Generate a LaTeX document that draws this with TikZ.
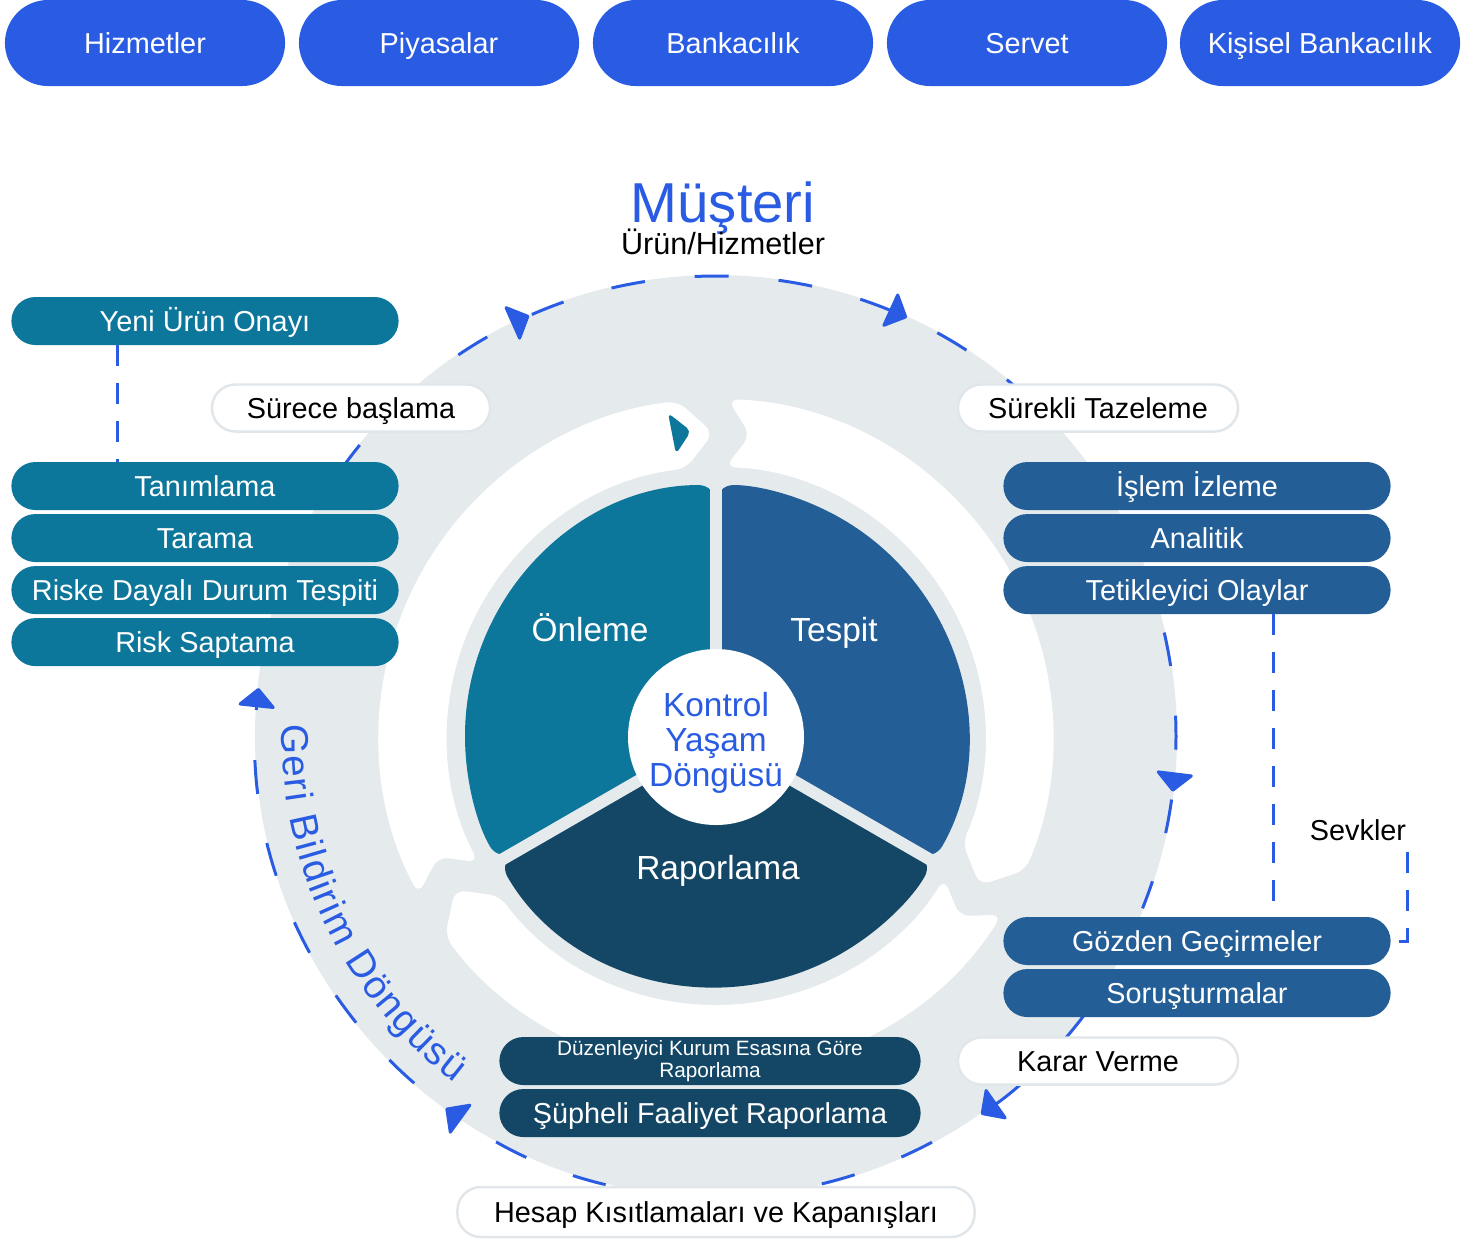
\documentclass[tikz,border=0pt]{standalone}
\usepackage{fontspec}
\setmainfont{Liberation Sans}
\usetikzlibrary{arrows.meta,decorations.markings,decorations.text,positioning}

\definecolor{btnblue}{HTML}{295CE2}
\definecolor{onlteal}{HTML}{0D769B}
\definecolor{tesblue}{HTML}{235E96}
\definecolor{rapdark}{HTML}{144766}
\definecolor{ringgray}{HTML}{E5EAED}
\definecolor{pillline}{HTML}{E1E6EA}

\tikzset{
  lbl/.style={font=\fontsize{8.2}{10}\selectfont},
  capline/.style={text height=0.21cm, text depth=0cm},
  topbtn/.style={lbl, capline, fill=btnblue, text=white, rounded corners=0.43cm,
    minimum width=2.8cm, minimum height=0.86cm, inner sep=0pt},
  stagebox/.style={lbl, capline, fill=#1, text=white, rounded corners=0.24cm,
    minimum width=3.87cm, minimum height=0.48cm, inner sep=0pt, outer sep=0pt},
  pill/.style={lbl, capline, fill=white, draw=pillline, line width=0.7pt, text=black,
    rounded corners=0.235cm, minimum height=0.47cm, minimum width=#1, inner sep=0pt},
  pielabel/.style={font=\fontsize{9.5}{10}\selectfont, text=white,
    text height=0.24cm, text depth=0cm},
  flow/.style={btnblue, line width=0.85pt, dash pattern=on 0.34cm off 0.5cm},
  linkline/.style={btnblue, line width=0.85pt, dash pattern=on 0.21cm off 0.17cm},
  flowend/.style={-{Triangle[length=0.2cm,width=0.4cm,round]}},
  flowmid/.style={postaction={decorate, decoration={markings,
    mark=at position #1 with {\arrow{Triangle[length=0.2cm,width=0.4cm,round]}}}}},
}

\begin{document}
\begin{tikzpicture}[x=0.01cm,y=0.01cm]
\useasboundingbox (0,0) rectangle (1473,-1241);

% ring, chevrons and pie
\begin{scope}[shift={(716,-736)}]
  \fill[ringgray] (0,0) circle (461);
  \foreach \s/\e/\t/\n in {88/-23.5/-29.5/83.5, -32/-143.5/-149.5/-36.5, -152/-263.5/-269.5/-156.5}
    \fill[white, rounded corners=3pt] (\s:337) arc (\s:\e:337) -- (\t:303)
      -- (\e:269) arc (\e:\s:269) -- (\n:303) -- cycle;
  \fill[onlteal, rounded corners=5pt] (0,0) -- (90:251) arc (90:210:251) -- cycle;
  \fill[tesblue, rounded corners=5pt] (0,0) -- (-30:251) arc (-30:90:251) -- cycle;
  \fill[rapdark, rounded corners=5pt] (0,0) -- (210:251) arc (210:330:251) -- cycle;
  \foreach \g in {90,210,330}
    \draw[ringgray, line width=0.12cm] (0,0) -- (\g:262);
  \fill[white] (0,-1) circle (88);

  % outer loop
  \draw[flow, flowmid=0.32, flowmid=0.82] (145:460) arc (145:48:460);
  \draw[flow, flowmid=0.57] (13:460) arc (13:-22:460);
  \draw[btnblue, line width=0.85pt, flowend] (-36:462) arc (-36:-55:462);
  \draw[flow, flowend] (-62:460) arc (-62:-126:460);
  \draw[flow, flowend] (-131:460) arc (-131:-186:460);

  \path[decorate, decoration={text along path, text color=btnblue,
    text={|\fontsize{11}{12}\selectfont|Geri Bildirim Döngüsü}, text align=fit to path}]
    (178.5:434) arc (178.5:233:434);
\end{scope}

\fill[onlteal, rounded corners=1.5pt] (668,-413) -- (691,-431) -- (676,-454) -- cycle;

% top row
\node[topbtn] (hizmet) at (145,-43) {Hizmetler};
\node[topbtn] (piyasa) at (439,-43) {Piyasalar};
\node[topbtn] (banka) at (733,-43) {Bankacılık};
\node[topbtn] (servet) at (1027,-43) {Servet};
\node[topbtn] (kisisel) at (1320,-43) {Kişisel Bankacılık};

\node[font=\fontsize{16}{18}\selectfont, text=btnblue, anchor=base] (musteri) at (723,-222) {Müşteri};
\node[font=\fontsize{8.7}{10}\selectfont, anchor=base] (urun) at (723,-254) {Ürün/Hizmetler};

% pie labels
\node[pielabel] (onleme) at (590,-629) {Önleme};
\node[pielabel] (tespit) at (834,-629) {Tespit};
\node[pielabel] (rapor) at (718,-867) {Raporlama};
\node[font=\fontsize{9.5}{10}\selectfont, text=btnblue, align=center] (kontrol) at (716,-743)
  {Kontrol\\Yaşam\\Döngüsü};

% left stages
\node[stagebox=onlteal] (yeni) at (205,-321) {Yeni Ürün Onayı};
\node[stagebox=onlteal] (tanim) at (205,-486) {Tanımlama};
\node[stagebox=onlteal, below=0.04cm of tanim] (tarama) {Tarama};
\node[stagebox=onlteal, below=0.04cm of tarama] (riske) {Riske Dayalı Durum Tespiti};
\node[stagebox=onlteal, below=0.04cm of riske] (saptama) {Risk Saptama};

% right stages
\node[stagebox=tesblue] (islem) at (1197,-486) {İşlem İzleme};
\node[stagebox=tesblue, below=0.04cm of islem] (analitik) {Analitik};
\node[stagebox=tesblue, below=0.04cm of analitik] (tetik) {Tetikleyici Olaylar};
\node[stagebox=tesblue] (gozden) at (1197,-941) {Gözden Geçirmeler};
\node[stagebox=tesblue, below=0.04cm of gozden] (sorus) {Soruşturmalar};

% bottom stages
\node[stagebox=rapdark, text height=, text depth=, minimum width=4.21cm, align=center,
  font=\fontsize{5.9}{6.1}\selectfont] (duzen) at (710,-1061)
  {Düzenleyici Kurum Esasına Göre\\Raporlama};
\node[stagebox=rapdark, minimum width=4.21cm, below=0.04cm of duzen] (supheli)
  {Şüpheli Faaliyet Raporlama};

% pills
\node[pill=2.78cm] (surece) at (351,-408) {Sürece başlama};
\node[pill=2.8cm] (surekli) at (1098,-408) {Sürekli Tazeleme};
\node[pill=2.8cm] (karar) at (1098,-1061) {Karar Verme};
\node[pill=5.17cm, minimum height=0.5cm] (hesap) at (716,-1212) {Hesap Kısıtlamaları ve Kapanışları};

\node[lbl] (sevkler) at (1358,-830) {Sevkler};
\coordinate (sevkend) at (1407,-852);

% links
\draw[linkline] ([xshift=-0.87cm]yeni.south) -- ([xshift=-0.87cm]tanim.north);
\draw[linkline] ([xshift=0.76cm]tetik.south) -- ([xshift=0.76cm]gozden.north);
\draw[linkline] (sevkend) |- (gozden.east);
\end{tikzpicture}
\end{document}
